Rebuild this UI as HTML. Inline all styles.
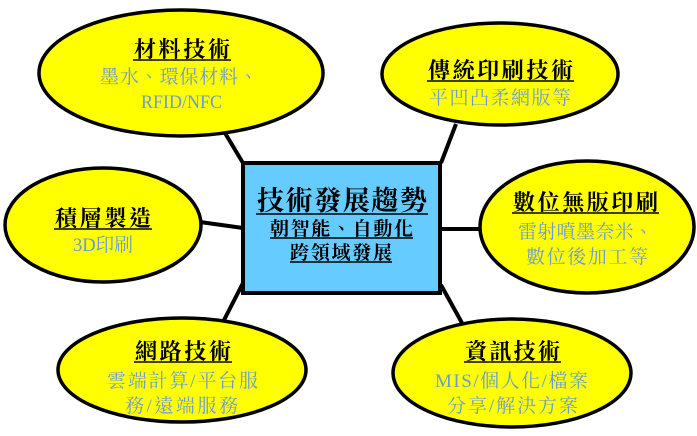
<!DOCTYPE html>
<html><head><meta charset="utf-8"><style>
html,body{margin:0;padding:0;background:#fff;}
svg{display:block;}
.t{font-family:"Liberation Serif","Noto Serif CJK TC","Noto Serif CJK SC",serif;font-weight:bold;fill:#000;}
.s{font-family:"Liberation Serif","Noto Serif CJK TC","Noto Serif CJK SC",serif;fill:#6c9bd2;font-size:19px;}
</style></head><body>
<svg width="697" height="436" viewBox="0 0 697 436">
<g stroke="#000" stroke-width="4">
<line x1="225" y1="133" x2="243" y2="163"/>
<line x1="456" y1="124" x2="441" y2="163"/>
<line x1="200" y1="222" x2="243" y2="228"/>
<line x1="440" y1="229" x2="481" y2="229"/>
<line x1="243" y1="283" x2="222" y2="324"/>
<line x1="441" y1="285" x2="462" y2="323"/>
</g>
<g fill="#ffff00" stroke="#000" stroke-width="3.5">
<ellipse cx="181" cy="73" rx="142" ry="63"/>
<ellipse cx="500" cy="74" rx="118" ry="51"/>
<ellipse cx="103" cy="225" rx="98" ry="57"/>
<ellipse cx="587" cy="227" rx="107" ry="66"/>
<ellipse cx="182" cy="370" rx="124" ry="52"/>
<ellipse cx="512" cy="373" rx="119" ry="54"/>
</g>
<rect x="243" y="163" width="197" height="130" fill="#66ccff" stroke="#000" stroke-width="4"/>
<g stroke="#000" stroke-width="1.5">
<line x1="133" y1="60" x2="231" y2="60"/>
<line x1="427" y1="81" x2="574" y2="81"/>
<line x1="54" y1="229" x2="152" y2="229"/>
<line x1="512" y1="213" x2="659" y2="213"/>
<line x1="134" y1="362" x2="232" y2="362"/>
<line x1="464" y1="362" x2="561" y2="362"/>
<line x1="256" y1="214" x2="428" y2="214"/>
<line x1="270" y1="238" x2="413" y2="238"/>
<line x1="290" y1="262" x2="392" y2="262"/>
</g>
<text class="t" x="134" y="57" font-size="22" textLength="96" lengthAdjust="spacing">材料技術</text>
<text class="s" x="100" y="83" textLength="158" lengthAdjust="spacing">墨水、環保材料、</text>
<text class="s" x="141" y="108" textLength="81" lengthAdjust="spacingAndGlyphs">RFID/NFC</text>
<text class="t" x="428" y="78" font-size="22" textLength="145" lengthAdjust="spacing">傳統印刷技術</text>
<text class="s" x="429" y="104" textLength="142" lengthAdjust="spacing">平凹凸柔網版等</text>
<text class="t" x="55" y="226" font-size="22" textLength="96" lengthAdjust="spacing">積層製造</text>
<text class="s" x="73" y="251" textLength="60" lengthAdjust="spacingAndGlyphs">3D印刷</text>
<text class="t" x="513" y="210" font-size="22" textLength="145" lengthAdjust="spacing">數位無版印刷</text>
<text class="s" x="518" y="238" textLength="135" lengthAdjust="spacing">雷射噴墨奈米、</text>
<text class="s" x="526" y="263" textLength="122" lengthAdjust="spacing">數位後加工等</text>
<text class="t" x="135" y="359" font-size="22" textLength="96" lengthAdjust="spacing">網路技術</text>
<text class="s" x="107" y="387" textLength="151" lengthAdjust="spacing">雲端計算/平台服</text>
<text class="s" x="125" y="412" textLength="113" lengthAdjust="spacing">務/遠端服務</text>
<text class="t" x="465" y="359" font-size="22" textLength="95" lengthAdjust="spacing">資訊技術</text>
<text class="s" x="435" y="387" textLength="153" lengthAdjust="spacing">MIS/個人化/檔案</text>
<text class="s" x="447" y="412" textLength="131" lengthAdjust="spacing">分享/解決方案</text>
<text class="t" x="257" y="210" font-size="27" textLength="170" lengthAdjust="spacing">技術發展趨勢</text>
<text class="t" x="270" y="235" font-size="19" textLength="143" lengthAdjust="spacing">朝智能、自動化</text>
<text class="t" x="290" y="259" font-size="19" textLength="102" lengthAdjust="spacing">跨領域發展</text>
</svg>
</body></html>
